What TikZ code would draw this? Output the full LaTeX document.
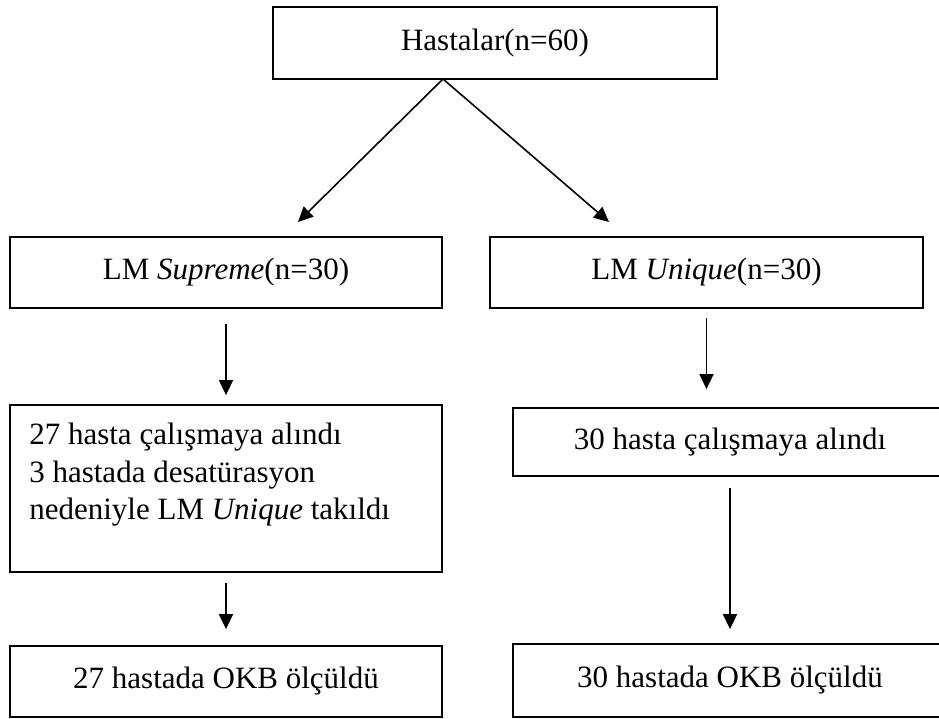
\documentclass[tikz,border=0pt]{standalone}
\usepackage{fontspec}
\setmainfont{Liberation Serif}
\usetikzlibrary{arrows.meta}

\begin{document}
\begin{tikzpicture}[x=1pt,y=-1pt,
        box/.style={draw, line width=1.8pt, inner sep=0pt, minimum width=432pt, minimum height=71pt},
        arr/.style={line width=1.6pt, -{Triangle[length=15pt,width=14pt]}},
        font=\fontsize{31}{37.5}\selectfont]
        \useasboundingbox (0,0) rectangle (939,719);
        \clip (0,0) rectangle (939,719);
        \node[box, minimum width=444pt, minimum height=72pt] (top) at (495,43) {Hastalar(n=60)};
        \node[box] (sup) at (226,272.5) {LM \textit{Supreme}(n=30)};
        \node[box, minimum width=433pt] (uni) at (706.5,272.5) {LM \textit{Unique}(n=30)};
        \node[box, minimum height=167pt] (supin) at (226,488.5) {};
        \node[anchor=north west, align=left, inner sep=0pt] (supnote) at ([xshift=20pt,yshift=-19pt]supin.north west)
            {27 hasta çalışmaya alındı\\3 hastada desatürasyon\\nedeniyle LM \textit{Unique} takıldı};
        \node[box, minimum width=434pt, minimum height=68pt] (uniin) at (730,442) {30 hasta çalışmaya alındı};
        \node[box] (supokb) at (226,681.5) {27 hastada OKB ölçüldü};
        \node[box, minimum width=434pt, minimum height=73pt] (uniokb) at (730,680.5) {30 hastada OKB ölçüldü};
        \coordinate (split) at (443,79);
        \coordinate (suptip) at (298,222);
        \coordinate (unitip) at (609,222);
        \draw[arr] (split) -- (suptip);
        \draw[arr] (split) -- (unitip);
        \draw[arr, shorten <=15pt, shorten >=9pt] (sup.south) -- (supin.north);
        \draw[arr, shorten <=9pt, shorten >=18pt] (uni.south) -- (uni.south |- uniin.north);
        \draw[arr, shorten <=10pt, shorten >=16pt] (supin.south) -- (supokb.north);
        \draw[arr, shorten <=11pt, shorten >=14pt] (uniin.south) -- (uniokb.north);
\end{tikzpicture}
\end{document}
